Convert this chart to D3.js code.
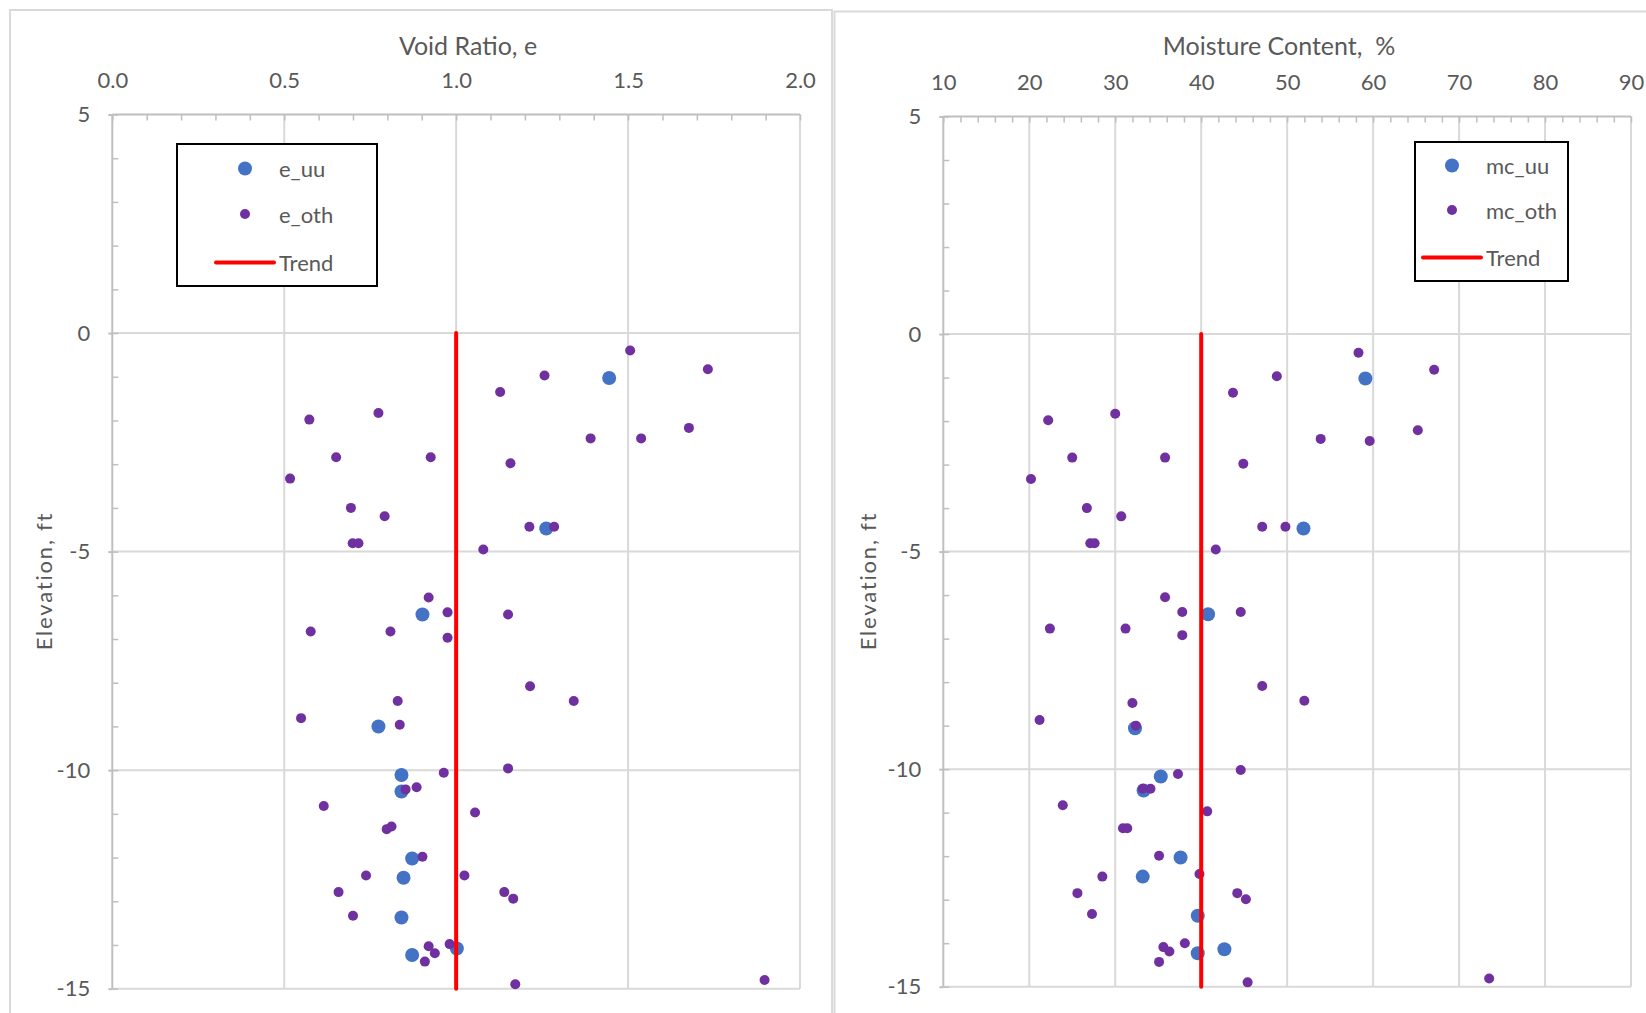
<!DOCTYPE html>
<html>
<head>
<meta charset="utf-8">
<script src="https://cdn.jsdelivr.net/npm/d3@7"></script>
<style>
  body { margin: 0; background: #fff; }
  text { font-family: Lato, "Open Sans", sans-serif; fill: #595959; }
</style>
</head>
<body>
<div id="chart"></div>
<script>
// elevation ticks shared by both charts
var yTicks = [5, 0, -5, -10, -15];
var eTicks = [0, 0.5, 1.0, 1.5, 2.0];
var mcTicks = [10, 20, 30, 40, 50, 60, 70, 80, 90];

// void ratio
var eUU = [1.445, 1.262, 0.902, 0.774, 0.841, 0.841, 0.872, 0.847, 0.841, 1.002, 0.872];
var eUUElev = [-1.03, -4.47, -6.44, -9.0, -10.11, -10.49, -12.02, -12.46, -13.37, -14.08, -14.23];
var eOth = [1.506, 1.732, 1.257, 1.128, 0.774, 0.573, 1.677, 1.391, 1.538, 0.651,
  0.926, 1.158, 0.517, 0.694, 0.792, 1.213, 1.285, 0.699, 0.716, 1.079,
  0.920, 0.975, 1.151, 0.577, 0.809, 0.975, 1.215, 1.342, 0.830, 0.549,
  0.836, 0.964, 1.151, 0.853, 0.885, 0.615, 1.055, 0.798, 0.812, 0.902,
  0.738, 1.024, 0.658, 1.140, 1.166, 0.700, 0.920, 0.981, 0.938, 0.909,
  1.172, 1.897];
var eOthElev = [-0.40, -0.83, -0.97, -1.35, -1.83, -1.98, -2.17, -2.41, -2.41, -2.84,
  -2.84, -2.98, -3.33, -4.00, -4.19, -4.43, -4.43, -4.81, -4.81, -4.95,
  -6.05, -6.39, -6.44, -6.83, -6.83, -6.97, -8.08, -8.42, -8.42, -8.81,
  -8.96, -10.06, -9.96, -10.44, -10.39, -10.82, -10.97, -11.35, -11.29, -11.98,
  -12.41, -12.41, -12.79, -12.79, -12.94, -13.33, -14.03, -13.98, -14.19, -14.38,
  -14.90, -14.80];
var eTrend = [1.0, 1.0];

// moisture content
var mcUU = [59.1, 51.9, 40.8, 32.3, 35.3, 33.3, 37.6, 33.2, 39.6, 42.7, 39.6];
var mcUUElev = [-1.02, -4.47, -6.44, -9.06, -10.17, -10.49, -12.03, -12.47, -13.37, -14.14, -14.23];
var mcOth = [58.3, 67.1, 48.8, 43.7, 30.0, 22.2, 65.2, 53.9, 59.6, 25.0,
  35.8, 44.9, 20.2, 26.7, 30.7, 47.1, 49.8, 27.1, 27.6, 41.7,
  35.8, 37.8, 44.6, 22.4, 31.2, 37.8, 47.1, 52.0, 32.0, 21.2,
  32.4, 37.3, 44.6, 33.2, 34.1, 23.9, 40.7, 30.9, 31.4, 35.1,
  28.5, 39.8, 25.6, 44.2, 45.2, 27.3, 35.6, 38.1, 36.3, 35.1,
  45.4, 73.5];
var mcOthElev = [-0.43, -0.82, -0.97, -1.35, -1.83, -1.98, -2.21, -2.41, -2.46, -2.84,
  -2.84, -2.98, -3.33, -4.00, -4.19, -4.43, -4.43, -4.81, -4.81, -4.95,
  -6.05, -6.39, -6.39, -6.77, -6.77, -6.92, -8.09, -8.43, -8.48, -8.87,
  -9.00, -10.11, -10.02, -10.45, -10.45, -10.83, -10.97, -11.36, -11.36, -11.99,
  -12.47, -12.41, -12.85, -12.85, -12.99, -13.33, -14.09, -14.00, -14.19, -14.43,
  -14.90, -14.81];
var mcTrend = [40, 40];
var trendElev = [0, -15];

var svgWidth = 1646;
var svgHeight = 1013;

var svg = d3.select("#chart")
  .append("svg")
  .attr("width", svgWidth)
  .attr("height", svgHeight);

svg.append("rect")
  .attr("width", svgWidth)
  .attr("height", svgHeight)
  .attr("fill", "#fff");

var gridColor = "#d9d9d9";
var axisColor = "#bfbfbf";
var blue = "#4472c4";
var purple = "#7030a0";

function drawPanel(p) {
  // panel frame
  svg.append("rect")
    .attr("x", p.frame[0])
    .attr("y", p.frame[1])
    .attr("width", p.frame[2])
    .attr("height", p.frame[3])
    .attr("fill", "none")
    .attr("stroke", gridColor)
    .attr("stroke-width", 2);

  var x = d3.scaleLinear().domain(p.xDomain).range([p.left, p.right]);
  var y = d3.scaleLinear().domain([5, -15]).range([p.top, p.bottom]);

  var g = svg.append("g");

  // gridlines
  g.selectAll(".vgrid")
    .data(p.xTicks.slice(1))
    .enter().append("line")
    .attr("x1", d => x(d)).attr("x2", d => x(d))
    .attr("y1", p.top).attr("y2", p.bottom)
    .attr("stroke", gridColor)
    .attr("stroke-width", 2);

  g.selectAll(".hgrid")
    .data(yTicks.slice(1))
    .enter().append("line")
    .attr("x1", p.left).attr("x2", p.right)
    .attr("y1", d => y(d)).attr("y2", d => y(d))
    .attr("stroke", gridColor)
    .attr("stroke-width", 2);

  // minor ticks on top axis
  var xMinor = d3.range(p.xDomain[0], p.xDomain[1] + p.xMinorStep / 2, p.xMinorStep);
  g.append("g")
    .attr("transform", `translate(0, ${p.top})`)
    .call(d3.axisTop(x).tickValues(xMinor).tickSize(-6).tickFormat(""))
    .call(a => a.select(".domain").remove())
    .selectAll("line").attr("stroke", axisColor).attr("stroke-width", 1.5);

  // minor ticks on left axis
  var yMinor = d3.range(-15, 6, 1);
  g.append("g")
    .attr("transform", `translate(${p.left}, 0)`)
    .call(d3.axisLeft(y).tickValues(yMinor).tickSize(-6).tickFormat(""))
    .call(a => a.select(".domain").remove())
    .selectAll("line").attr("stroke", axisColor).attr("stroke-width", 1.5);

  // top axis labels
  var topAxis = g.append("g")
    .attr("transform", `translate(0, ${p.top})`)
    .call(d3.axisTop(x).tickValues(p.xTicks).tickFormat(p.xFormat).tickSize(0).tickPadding(27));
  topAxis.select(".domain").remove();
  topAxis.selectAll("text")
    .style("font-size", "22px")
    .style("font-family", "Lato, sans-serif")
    .attr("fill", "#595959");

  // left axis labels (plain hyphen for negatives)
  var leftAxis = g.append("g")
    .attr("transform", `translate(${p.left}, 0)`)
    .call(d3.axisLeft(y).tickValues(yTicks).tickFormat(d => String(d)).tickSize(4).tickPadding(18));
  leftAxis.select(".domain").remove();
  leftAxis.selectAll("line").attr("stroke", axisColor).attr("stroke-width", 2);
  leftAxis.selectAll("text")
    .style("font-size", "22px")
    .style("font-family", "Lato, sans-serif")
    .attr("fill", "#595959");

  // axis lines
  g.append("line")
    .attr("x1", p.left).attr("x2", p.right)
    .attr("y1", p.top).attr("y2", p.top)
    .attr("stroke", axisColor).attr("stroke-width", 2);
  g.append("line")
    .attr("x1", p.left).attr("x2", p.left)
    .attr("y1", p.top).attr("y2", p.bottom)
    .attr("stroke", axisColor).attr("stroke-width", 2);

  // titles
  g.append("text")
    .attr("x", p.titleX)
    .attr("y", 45)
    .attr("text-anchor", "middle")
    .attr("dominant-baseline", "central")
    .style("font-size", "25px")
    .style("white-space", "pre")
    .text(p.title);

  g.append("text")
    .attr("transform", `translate(${p.yLabelX}, 581) rotate(-90)`)
    .attr("text-anchor", "middle")
    .attr("dominant-baseline", "central")
    .style("font-size", "22px")
    .style("letter-spacing", "1.8px")
    .text("Elevation, ft");

  // series: uu (blue), oth (purple), trend (red)
  g.selectAll(".uu")
    .data(p.uu)
    .enter().append("circle")
    .attr("cx", (d, i) => x(d))
    .attr("cy", (d, i) => y(p.uuElev[i]))
    .attr("r", 7)
    .attr("fill", blue);

  g.selectAll(".oth")
    .data(p.oth)
    .enter().append("circle")
    .attr("cx", (d, i) => x(d))
    .attr("cy", (d, i) => y(p.othElev[i]))
    .attr("r", 5)
    .attr("fill", purple);

  var line = d3.line()
    .x(d => x(d[0]))
    .y(d => y(d[1]));
  g.append("path")
    .datum(d3.zip(p.trend, trendElev))
    .attr("d", line)
    .attr("fill", "none")
    .attr("stroke", "#ff0000")
    .attr("stroke-width", 4)
    .attr("stroke-linecap", "round");

  // legend
  var L = p.legend;
  var lg = g.append("g");
  lg.append("rect")
    .attr("x", L.x).attr("y", L.y)
    .attr("width", L.w).attr("height", L.h)
    .attr("fill", "#fff")
    .attr("stroke", "#000")
    .attr("stroke-width", 2);
  lg.append("circle")
    .attr("cx", L.keyX).attr("cy", L.rows[0])
    .attr("r", 7).attr("fill", blue);
  lg.append("circle")
    .attr("cx", L.keyX).attr("cy", L.rows[1])
    .attr("r", 5).attr("fill", purple);
  lg.append("line")
    .attr("x1", L.keyX - 29).attr("x2", L.keyX + 29)
    .attr("y1", L.rows[2]).attr("y2", L.rows[2])
    .attr("stroke", "#ff0000")
    .attr("stroke-width", 4)
    .attr("stroke-linecap", "round");
  lg.selectAll(".ltext")
    .data(L.labels)
    .enter().append("text")
    .attr("x", L.textX)
    .attr("y", (d, i) => L.rows[i])
    .attr("dominant-baseline", "central")
    .style("font-size", "22px")
    .text(d => d);
}

drawPanel({
  frame: [10, 10, 822, 1100],
  left: 112.3, right: 800, top: 114.5, bottom: 988.7,
  xDomain: [0, 2], xTicks: eTicks, xMinorStep: 0.1,
  xFormat: d3.format(".1f"),
  title: "Void Ratio, e", titleX: 468,
  yLabelX: 43,
  uu: eUU, uuElev: eUUElev, oth: eOth, othElev: eOthElev, trend: eTrend,
  legend: { x: 177, y: 144, w: 200, h: 142, keyX: 245, textX: 279,
    rows: [168.5, 214, 262.5], labels: ["e_uu", "e_oth", "Trend"] }
});

drawPanel({
  frame: [834.5, 11.5, 900, 1100],
  left: 943.3, right: 1631, top: 116.5, bottom: 986.7,
  xDomain: [10, 90], xTicks: mcTicks, xMinorStep: 2,
  xFormat: d3.format("d"),
  title: "Moisture Content,  %", titleX: 1279,
  yLabelX: 867,
  uu: mcUU, uuElev: mcUUElev, oth: mcOth, othElev: mcOthElev, trend: mcTrend,
  legend: { x: 1415, y: 142, w: 153, h: 139, keyX: 1452, textX: 1486,
    rows: [165.5, 210, 257.5], labels: ["mc_uu", "mc_oth", "Trend"] }
});
</script>
</body>
</html>
